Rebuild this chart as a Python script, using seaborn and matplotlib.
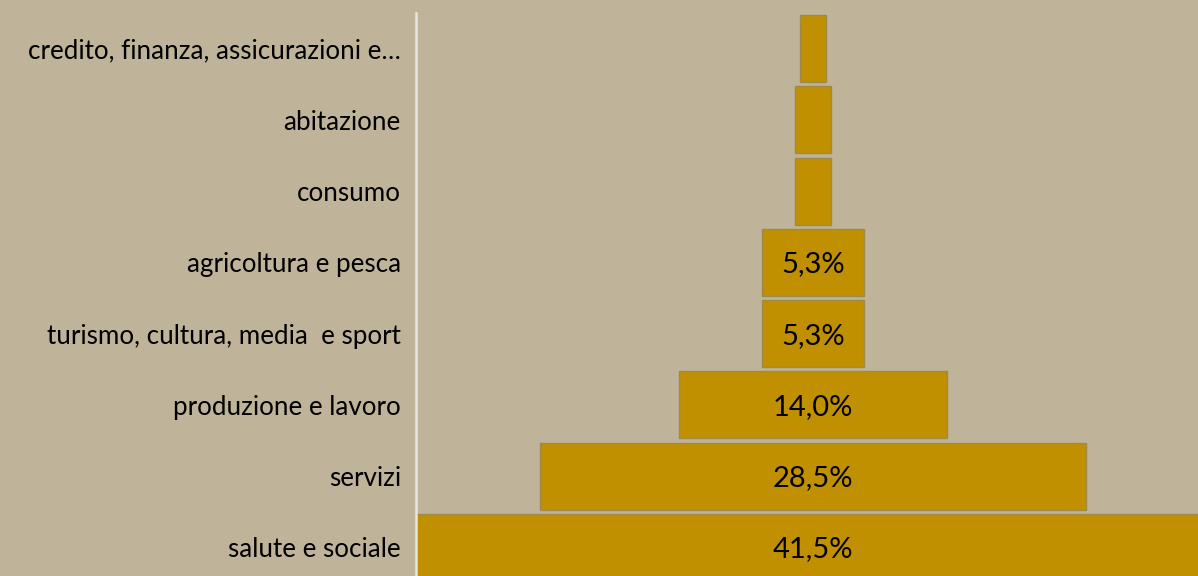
import matplotlib
matplotlib.use("Agg")
import matplotlib.pyplot as plt
import seaborn as sns
import pandas as pd

categories = ["credito, finanza, assicurazioni e…", "abitazione", "consumo",
              "agricoltura e pesca", "turismo, cultura, media  e sport",
              "produzione e lavoro", "servizi", "salute e sociale"]
values = [1.4, 1.9, 1.9, 5.3, 5.3, 14.0, 28.5, 41.5]
shown = [False, False, False, True, True, True, True, True]

BG = "#BFB499"
BAR = "#C09000"
EDGE = "#A08A48"

sns.set_theme(style="white")
plt.rcParams["font.family"] = ["Lato", "DejaVu Sans"]

df = pd.DataFrame({"cat": categories, "val": values})

fig = plt.figure(figsize=(11.98, 5.76), dpi=100, facecolor=BG)
ax = fig.add_axes([416 / 1198, -7 / 576, 794 / 1198, 570 / 576])
ax.set_facecolor(BG)

sns.barplot(data=df, x="val", y="cat", orient="h", color=BAR, saturation=1,
            width=0.94, edgecolor=EDGE, linewidth=1.0, ax=ax)

# centre every bar to make the funnel
for p in ax.patches:
    w = p.get_width()
    p.set_x(-w / 2)

half = max(values) / 2
ax.set_xlim(-half, half)
ax.set_ylim(len(categories) - 0.5, -0.5)

for i, (v, s) in enumerate(zip(values, shown)):
    if s:
        ax.text(0, i + 0.03, f"{v:.1f}".replace(".", ",") + "%", ha="center", va="center",
                fontsize=21, color="black")

ax.set_xlabel("")
ax.set_ylabel("")
ax.set_xticks([])
ax.tick_params(axis="y", length=0, pad=11, labelsize=18.7, labelcolor="black")
for lab in ax.get_yticklabels():
    lab.set_y(lab.get_position()[1])
for sp in ["top", "right", "bottom"]:
    ax.spines[sp].set_visible(False)
ax.spines["left"].set_color("#E8E6E0")
ax.spines["left"].set_linewidth(1.8)
ax.spines["left"].set_zorder(5)

fig.savefig("out.png", dpi=100, facecolor=BG)
